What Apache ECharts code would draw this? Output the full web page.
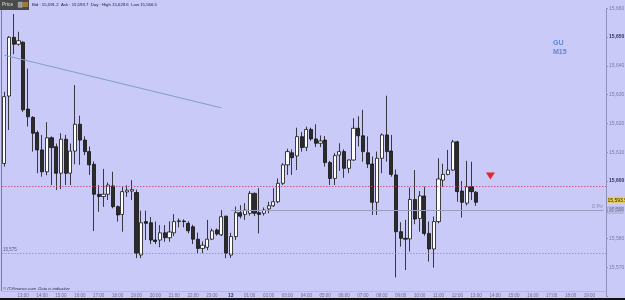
<!DOCTYPE html>
<html>
<head>
<meta charset="utf-8">
<script src="https://cdn.jsdelivr.net/npm/echarts@6/dist/echarts.min.js"></script>
<style>
  html, body { margin: 0; padding: 0; background: #cacaf8; }
  #chart { width: 625px; height: 300px; }
</style>
</head>
<body>
<div id="chart"></div>
<script>
// GBP M15 candles, 12th 12:00 -> 13th 13:00
const opens = [
  15606.1, 15629.5, 15649.9, 15647.5, 15648.2, 15625.0, 15622.1, 15616.8, 15610.8, 15603.2,
  15615.0, 15611.9, 15602.7, 15614.5, 15602.7, 15610.4, 15619.7, 15614.2, 15610.2, 15605.8,
  15595.4, 15594.6, 15595.4, 15598.3, 15591.1, 15588.4, 15596.2, 15596.5, 15596.0, 15574.3,
  15585.9, 15585.5, 15579.5, 15579.5, 15582.0, 15580.3, 15582.0, 15585.9, 15586.1, 15585.3,
  15584.1, 15579.8, 15576.6, 15577.0, 15579.8, 15583.0, 15581.3, 15587.8, 15574.3, 15580.7,
  15589.0, 15588.4, 15588.8, 15595.7, 15589.0, 15588.8, 15590.3, 15591.4, 15592.8, 15599.2,
  15605.6, 15609.8, 15608.7, 15615.4, 15611.7, 15617.9, 15614.6, 15613.1, 15614.2, 15606.4,
  15600.9, 15609.0, 15610.2, 15604.4, 15607.3, 15618.3, 15615.7, 15609.8, 15605.9, 15592.6,
  15607.9, 15616.0, 15610.4, 15602.1, 15582.4, 15580.1, 15579.9, 15593.6, 15587.0, 15594.8,
  15581.8, 15576.4, 15585.9, 15600.3, 15602.3, 15603.8, 15613.6, 15596.5, 15592.3, 15598.0,
  15596.1
];
const closes = [
  15629.3, 15649.9, 15647.5, 15648.7, 15624.7, 15622.3, 15616.6, 15610.8, 15603.2, 15615.0,
  15611.6, 15602.7, 15614.5, 15602.7, 15610.4, 15619.7, 15614.2, 15610.2, 15605.6, 15595.4,
  15594.6, 15595.4, 15598.6, 15591.1, 15588.2, 15596.3, 15596.8, 15597.0, 15574.9, 15585.5,
  15585.3, 15579.5, 15579.0, 15582.0, 15580.3, 15582.3, 15585.9, 15586.2, 15585.9, 15582.7,
  15579.8, 15576.6, 15577.7, 15579.8, 15582.7, 15581.6, 15587.6, 15574.9, 15580.7, 15589.0,
  15587.8, 15589.9, 15595.7, 15588.8, 15588.4, 15589.9, 15591.4, 15592.8, 15599.2, 15605.6,
  15610.2, 15608.1, 15615.4, 15611.6, 15617.9, 15614.6, 15613.1, 15613.9, 15606.4, 15600.9,
  15608.8, 15610.2, 15604.4, 15607.3, 15618.3, 15615.7, 15610.2, 15605.9, 15592.6, 15607.9,
  15616.0, 15610.2, 15602.3, 15582.4, 15580.1, 15579.8, 15593.6, 15586.8, 15594.8, 15581.8,
  15576.4, 15585.9, 15600.7, 15602.3, 15603.8, 15613.6, 15596.3, 15592.6, 15598.0, 15596.3,
  15592.6
];
const lows = [
  15605.0, 15617.7, 15644.0, 15647.0, 15624.0, 15618.9, 15610.2, 15602.7, 15601.5, 15602.0,
  15598.6, 15596.9, 15597.2, 15598.6, 15598.6, 15605.8, 15605.6, 15609.0, 15602.1, 15582.6,
  15589.3, 15591.0, 15593.4, 15590.5, 15585.9, 15582.4, 15594.5, 15593.4, 15573.2, 15573.2,
  15579.5, 15578.1, 15578.1, 15577.0, 15578.9, 15578.9, 15580.9, 15583.9, 15583.9, 15581.8,
  15578.1, 15574.9, 15574.9, 15576.0, 15579.5, 15581.0, 15580.9, 15573.2, 15573.3, 15579.5,
  15587.0, 15586.5, 15588.0, 15587.8, 15581.8, 15588.0, 15588.8, 15591.0, 15592.3, 15598.6,
  15602.1, 15602.1, 15603.8, 15610.2, 15610.4, 15614.0, 15611.8, 15611.8, 15605.0, 15598.6,
  15598.6, 15603.5, 15601.1, 15602.7, 15607.0, 15612.0, 15606.7, 15604.5, 15588.2, 15588.2,
  15602.7, 15606.7, 15601.5, 15566.5, 15577.2, 15569.1, 15575.5, 15585.0, 15582.4, 15581.0,
  15572.0, 15569.9, 15585.3, 15598.0, 15602.0, 15603.5, 15592.8, 15587.3, 15591.5, 15593.4,
  15591.4
];
const highs = [
  15631.0, 15650.3, 15658.0, 15651.8, 15648.5, 15639.0, 15622.5, 15617.5, 15616.0, 15620.4,
  15615.5, 15613.0, 15616.6, 15616.0, 15613.0, 15633.3, 15622.7, 15615.5, 15612.0, 15606.8,
  15598.6, 15604.2, 15599.5, 15603.2, 15591.5, 15598.0, 15598.5, 15600.3, 15597.0, 15589.7,
  15589.7, 15587.5, 15585.9, 15584.7, 15584.7, 15586.0, 15588.5, 15587.0, 15586.7, 15586.0,
  15584.8, 15582.1, 15579.0, 15586.5, 15583.5, 15583.5, 15589.9, 15587.9, 15582.0, 15591.1,
  15591.6, 15592.3, 15596.5, 15596.0, 15597.5, 15590.8, 15592.8, 15597.5, 15600.9, 15606.2,
  15611.2, 15611.0, 15618.5, 15617.0, 15618.9, 15618.5, 15619.7, 15615.8, 15615.6, 15607.0,
  15609.7, 15613.1, 15611.0, 15607.5, 15621.8, 15622.5, 15624.7, 15615.5, 15608.5, 15610.2,
  15616.5, 15629.6, 15616.0, 15604.0, 15585.7, 15586.5, 15597.7, 15603.8, 15596.5, 15598.0,
  15585.9, 15587.7, 15607.9, 15606.0, 15610.8, 15614.3, 15614.0, 15600.0, 15607.0, 15606.7,
  15596.5
];

// price levels drawn on the chart
const askLevel = 15598.3;
const pivotLevel = 15590;
const supportLevel = 15575;
const lastPrice = 15593.5;
const trendStart = [0, 15643.7];
const trendEnd = [46, 15625.4];
const signalPoint = [103, 15601.7];

// 15-minute slots, 12th 12:00 to 13th 19:45
const categories = [];
for (let k = 0; k < 128; k++) {
  const m = 12 * 60 + k * 15;
  const day = 12 + Math.floor(m / 1440);
  const hh = Math.floor((m % 1440) / 60);
  const mm = m % 60;
  categories.push(day + ' ' + String(hh).padStart(2, '0') + ':' + String(mm).padStart(2, '0'));
}

const candles = opens.map((o, i) => [o, closes[i], lows[i], highs[i]]);

const fmt = (v) => {
  const s = String(v);
  return s.slice(0, 2) + ',' + s.slice(2);
};

const chart = echarts.init(document.getElementById('chart'));

const option = {
  backgroundColor: '#cacaf8',
  animation: false,
  grid: { left: 2, right: 19, top: 8.2, height: 288, outerBoundsMode: 'none', containLabel: false },
  xAxis: {
    type: 'category',
    data: categories,
    boundaryGap: true,
    offset: -5,
    axisLine: { show: true, lineStyle: { color: '#b4b4e0' } },
    axisTick: { show: false },
    splitLine: { show: false },
    axisLabel: {
      interval: (idx, val) => idx > 0 && val.slice(-2) === '00',
      margin: 2,
      fontSize: 4.5,
      color: '#6c6c90',
      fontFamily: 'Liberation Sans',
      hideOverlap: false,
      formatter: (val) => {
        const t = val.slice(3);
        return t === '00:00' ? '{d|' + val.slice(0, 2) + '}' : t;
      },
      rich: { d: { fontSize: 5, fontWeight: 'bold', color: '#3a3a70' } }
    }
  },
  yAxis: {
    type: 'value',
    position: 'right',
    min: 15560,
    max: 15660,
    interval: 10,
    axisLine: { show: true, lineStyle: { color: '#9090b8' } },
    axisTick: { show: true, length: 2, lineStyle: { color: '#9090b8' } },
    splitLine: { show: false },
    axisLabel: {
      margin: 3,
      fontSize: 5,
      color: '#7a7aa0',
      fontFamily: 'Liberation Sans',
      formatter: (v) => {
        if (v === 15560) return '';
        if (v === 15650 || v === 15600) return '{b|' + fmt(v) + '}';
        return fmt(v);
      },
      rich: { b: { fontSize: 5, fontWeight: 'bold', color: '#2e2e66' } }
    }
  },
  series: [
    {
      type: 'candlestick',
      data: candles,
      barWidth: 3.6,
      itemStyle: {
        color: '#ffffff',
        color0: '#2b2b2b',
        borderColor: '#111111',
        borderColor0: '#111111',
        borderWidth: 0.8
      },
      markLine: {
        silent: true,
        symbol: 'none',
        animation: false,
        data: [
          [
            { coord: trendStart, lineStyle: { color: '#7f9fd0', width: 1, type: 'solid' }, label: { show: false } },
            { coord: trendEnd }
          ],
          {
            yAxis: askLevel,
            lineStyle: { color: '#c04070', width: 0.8, type: [1.5, 1.5] },
            label: { show: false }
          },
          {
            yAxis: supportLevel,
            lineStyle: { color: '#8090c0', width: 0.8, type: [1.5, 1.5] },
            label: {
              show: true, position: 'insideStartTop', formatter: '15,575',
              fontSize: 4.5, color: '#5a5a80', distance: 1
            }
          },
          [
            {
              coord: [48, pivotLevel],
              lineStyle: { color: '#9c9cc0', width: 1, type: 'solid' },
              label: {
                show: true, position: 'insideEndTop', formatter: 'D Piv',
                fontSize: 4.5, color: '#8a8ab0', distance: 1
              }
            },
            { coord: [127, pivotLevel] }
          ]
        ]
      }
    },
    {
      type: 'scatter',
      data: [signalPoint],
      symbol: 'triangle',
      symbolRotate: 180,
      symbolSize: [9, 7],
      itemStyle: { color: '#e00000' },
      silent: true
    }
  ],
  graphic: [
    { type: 'rect', left: 0, top: 0, shape: { width: 29, height: 10 }, style: { fill: '#4a4a4a' } },
    { type: 'text', left: 2, top: 2.5, style: { text: 'Price', fill: '#dddddd', fontSize: 5, fontFamily: 'Liberation Sans' } },
    { type: 'rect', left: 18, top: 2, shape: { width: 4, height: 5 }, style: { fill: '#999', stroke: '#ccc', lineWidth: 0.5 } },
    { type: 'rect', left: 23, top: 2, shape: { width: 5, height: 5 }, style: { fill: '#aa7733' } },
    {
      type: 'text', left: 32, top: 3,
      style: {
        text: 'Bid : 15,591.2  Ask : 15,593.7  Day : High 15,629.6  Low 15,566.5',
        fill: '#1a1a30', fontSize: 4.3, fontFamily: 'Liberation Sans'
      }
    },
    { type: 'line', shape: { x1: 1.5, y1: 10, x2: 1.5, y2: 291 }, style: { stroke: '#7a7a9a', lineWidth: 1 } },
    { type: 'text', left: 553, top: 40, style: { text: 'GU', fill: '#5a8ad8', fontSize: 7, fontWeight: 'bold', fontFamily: 'Liberation Sans' } },
    { type: 'text', left: 553, top: 49, style: { text: 'M15', fill: '#5a8ad8', fontSize: 7, fontWeight: 'bold', fontFamily: 'Liberation Sans' } },
    {
      type: 'text', left: 3, top: 287,
      style: { text: '© IT-Finance.com  Data is indicative', fill: '#2a2a50', fontSize: 4.2, fontStyle: 'italic', fontFamily: 'Liberation Sans' }
    },
    { type: 'rect', left: 0, top: 298, shape: { width: 625, height: 2 }, style: { fill: '#111' } }
  ]
};

chart.setOption(option);

// right-edge price tags, placed through the value axis
const pivY = chart.convertToPixel({ yAxisIndex: 0 }, pivotLevel);
const lastY = chart.convertToPixel({ yAxisIndex: 0 }, lastPrice);
chart.setOption({
  graphic: option.graphic.concat([
    {
      type: 'text', left: 607, top: pivY - 3,
      style: {
        text: fmt(pivotLevel), fill: '#7a7aa0', fontSize: 4.5, fontFamily: 'Liberation Sans',
        borderColor: '#8a8ab8', borderWidth: 0.6, padding: [1, 1, 0, 1]
      }
    },
    {
      type: 'text', left: 606.5, top: lastY - 3,
      style: {
        text: '15,593.5', fill: '#222', fontSize: 5, fontFamily: 'Liberation Sans',
        backgroundColor: '#f0d040', padding: [1, 1, 0, 1]
      }
    }
  ])
});
</script>
</body>
</html>
